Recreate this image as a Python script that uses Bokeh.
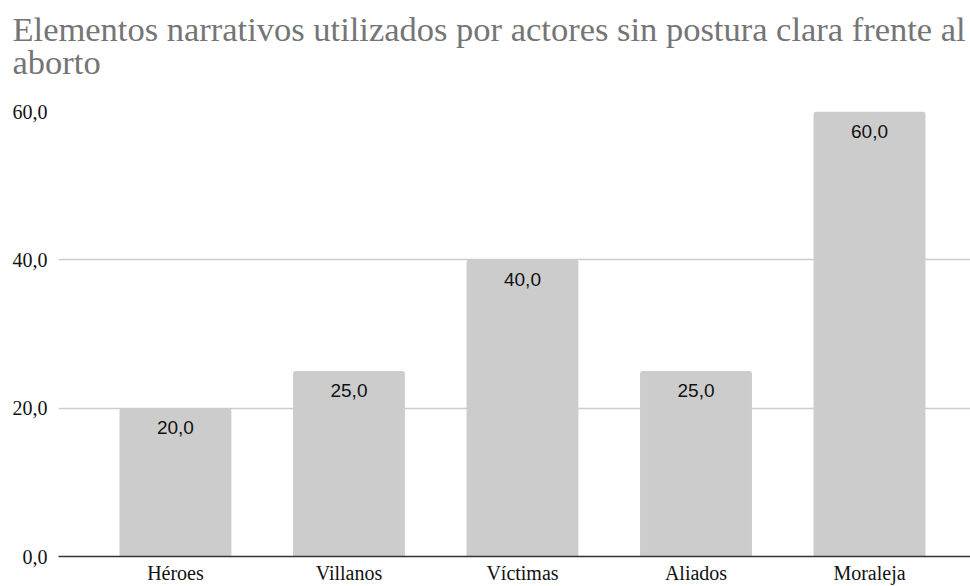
from bokeh.plotting import figure
from bokeh.models import ColumnDataSource, FixedTicker, Range1d, Title, LabelSet, LinearAxis
from bokeh.core.properties import value
from bokeh.embed import file_html
from bokeh.resources import INLINE

categories = ["Héroes", "Villanos", "Víctimas", "Aliados", "Moraleja"]
values = [20.0, 25.0, 40.0, 25.0, 60.0]
y_ticks = [0, 20, 40, 60]
y_tick_labels = ["0,0", "20,0", "40,0", "60,0"]
title_lines = ["Elementos narrativos utilizados por actores sin postura clara frente al",
               "aborto"]

xs = list(range(len(categories)))
labels = [f"{v:.1f}".replace(".", ",") for v in values]
source = ColumnDataSource(data=dict(x=xs, value=values, label=labels))

p = figure(width=970, height=586, output_backend="svg", toolbar_location=None,
           x_range=Range1d(-0.674, 4.582), y_range=Range1d(0, 60),
           min_border_left=58, min_border_right=0, min_border_bottom=0,
           min_border_top=111)

p.title.visible = False
serif = "Liberation Serif"

xax = p.below[0]
yax = p.left[0]

# invisible spacer between the title and the plot frame (hidden tick, empty label)
spacer = LinearAxis(ticker=FixedTicker(ticks=[0]), major_label_overrides={0: ""},
                    major_label_text_font_size="0px", major_label_standoff=0,
                    axis_line_color=None, major_tick_line_color=None,
                    minor_tick_line_color=None, major_tick_out=30, major_tick_in=0,
                    minor_tick_out=0, minor_tick_in=0)
p.add_layout(spacer, "above")

p.add_layout(Title(text="\n".join(title_lines), text_font=serif,
                   text_font_size="34.5px", text_line_height=0.89,
                   text_color="#757575", text_font_style="normal",
                   offset=-46, standoff=0), "above")

p.vbar(x="x", top="value", width=0.645, source=source, fill_color="#cccccc",
       line_color=None, border_radius=[3, 3, 0, 0])

p.add_layout(LabelSet(x="x", y="value", text="label", source=source,
                      text_align="center", text_baseline="top", y_offset=-13,
                      text_font=value("Liberation Sans"), text_font_size=value("19px"),
                      text_color=value("#111111")))

p.outline_line_color = None
p.xgrid.grid_line_color = None
p.ygrid.grid_line_color = "#cccccc"
p.ygrid.grid_line_width = 1.5

for ax in (xax, yax):
    ax.major_tick_out = 0
    ax.major_tick_in = 0
    ax.minor_tick_out = 0
    ax.minor_tick_in = 0
    ax.major_tick_line_color = None
    ax.minor_tick_line_color = None
    ax.major_label_text_font = serif
    ax.major_label_text_font_size = "20px"
    ax.major_label_text_color = "#111111"

yax.ticker = FixedTicker(ticks=y_ticks)
yax.major_label_overrides = dict(zip(y_ticks, y_tick_labels))
yax.axis_line_color = None
yax.major_label_standoff = 11

xax.ticker = FixedTicker(ticks=xs)
xax.major_label_overrides = dict(zip(xs, categories))
xax.axis_line_color = "#333333"
xax.axis_line_width = 1.5
xax.major_label_standoff = 5

open("out.html", "w").write(file_html(p, INLINE))
